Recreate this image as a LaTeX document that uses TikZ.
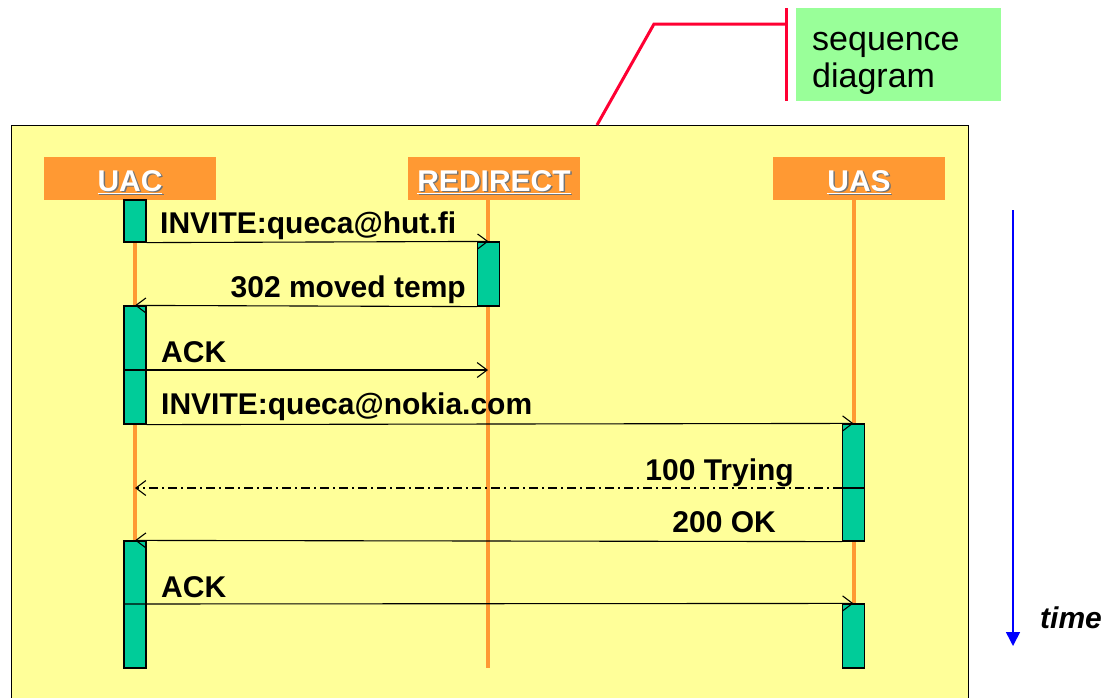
\documentclass[tikz,border=0pt]{standalone}
\usepackage{fontspec}
\setmainfont{Liberation Sans}
\usetikzlibrary{arrows.meta}

\definecolor{framefill}{HTML}{FFFF99}
\definecolor{headorange}{HTML}{FF9933}
\definecolor{actgreen}{HTML}{00CC99}
\definecolor{notegreen}{HTML}{99FF99}
\definecolor{calloutred}{HTML}{FF0033}
\definecolor{timeblue}{HTML}{0000FF}

% white underlined title with a small grey drop shadow
\newcommand{\headtitle}[1]{\rlap{\kern1.5pt\raisebox{-1.5pt}{\textcolor{black!55}{\underline{#1}}}}\underline{#1}}

\tikzset{
  head/.style={fill=headorange, text=white, font=\fontsize{30}{34}\selectfont\bfseries,
    minimum width=172pt, minimum height=43pt, inner sep=0pt, text height=27pt, text depth=2pt},
  lifeline/.style={headorange, line width=4.5pt},
  act/.style={draw=black, fill=actgreen, line width=1.2pt, minimum width=22pt, inner sep=0pt},
  msg/.style={line width=1.1pt, -{Straight Barb[length=10pt,width=15pt,line width=1.1pt]}},
  dashdot/.style={dash pattern=on 9pt off 4pt on 2pt off 4pt},
  msglabel/.style={font=\fontsize{30}{34}\selectfont\bfseries, inner sep=0pt},
  callout/.style={calloutred, line width=3pt},
}

\begin{document}
\begin{tikzpicture}[x=1pt,y=-1pt]
    \useasboundingbox (0,0) rectangle (1113,697);
    \clip (0,0) rectangle (1113,697);

    % note and its callout
    \node[fill=notegreen, minimum width=205pt, minimum height=93pt, inner sep=0pt] (note) at (898.5,54.5) {};
    \node[font=\fontsize{34}{37}\selectfont, align=left, inner sep=0pt, anchor=north west] (notetext)
      at (812,32) {sequence\\diagram};
    \coordinate (bend) at (654,24);
    \coordinate (bartop) at (786,8);
    \coordinate (barbot) at (786,101);
    \draw[callout] (bartop) -- (barbot);

    % the frame
    \node[draw, fill=framefill, line width=1.2pt, minimum width=957pt, minimum height=600pt,
      inner sep=0pt, anchor=north west] (frame) at (11,125) {};
    \coordinate (hook) at (597,125);
    \draw[callout] (hook) -- (bend) -- (bartop |- bend);

    % heads of the lifelines
    \node[head] (uac) at (130,178.5) {\headtitle{UAC}};
    \node[head] (redir) at (494,178.5) {\headtitle{REDIRECT}};
    \node[head] (uas) at (859,178.5) {\headtitle{UAS}};

    \coordinate (uacend) at (135,668);
    \coordinate (redirend) at (488,668);
    \coordinate (uasend) at (854,668);
    \draw[lifeline] (uacend |- uac.south) -- (uacend);
    \draw[lifeline] (redirend |- redir.south) -- (redirend);
    \draw[lifeline] (uasend |- uas.south) -- (uasend);

    % activations
    \node[act, minimum height=42pt] (uac1) at (135,221) {};
    \node[act, minimum height=64pt] (redir1) at (488.5,274) {};
    \node[act, minimum height=118pt] (uac2) at (135,365) {};
    \node[act, minimum height=117pt] (uas1) at (853.5,482.5) {};
    \node[act, minimum height=127pt] (uac3) at (135,604.5) {};
    \node[act, minimum height=64pt] (uas2) at (853.5,636) {};

    % messages
    \coordinate (ack1) at (124,370);
    \coordinate (ack1end) at (488,370);
    \coordinate (trying) at (865,488);
    \coordinate (tryingend) at (135,488);
    \coordinate (ack2) at (124,604);

    \draw[msg] (uac1.south east) -- (redir1.north);
    \draw[msg] (redir1.south west) -- (uac2.north);
    \draw[msg] (ack1) -- (ack1end);
    \draw[msg] (uac2.south east) -- (uas1.north);
    \draw[line width=1.1pt] (trying) -- (trying -| uas1.west);
    \draw[msg, dashdot] (trying -| uas1.west) -- (tryingend);
    \draw[msg] (uas1.south west) -- (uac3.north);
    \draw[msg] (ack2) -- (uas2.north);

    \node[msglabel, anchor=base west] (l1) at (160,233) {INVITE:queca@hut.fi};
    \node[msglabel, anchor=base east] (l2) at (466,297) {302 moved temp};
    \node[msglabel, anchor=base west] (l3) at (161,362) {ACK};
    \node[msglabel, anchor=base west] (l4) at (161,414) {INVITE:queca@nokia.com};
    \node[msglabel, anchor=base east] (l5) at (794,480) {100 Trying};
    \node[msglabel, anchor=base east] (l6) at (776,532) {200 OK};
    \node[msglabel, anchor=base west] (l7) at (161,597) {ACK};

    % time axis
    \coordinate (t0) at (1013,210);
    \coordinate (t1) at (1013,646);
    \draw[timeblue, line width=1.6pt, -{Triangle[length=14pt,width=14pt]}] (t0) -- (t1);
    \node[msglabel, anchor=base west] (time) at (1040,628) {\textit{time}};
\end{tikzpicture}
\end{document}
